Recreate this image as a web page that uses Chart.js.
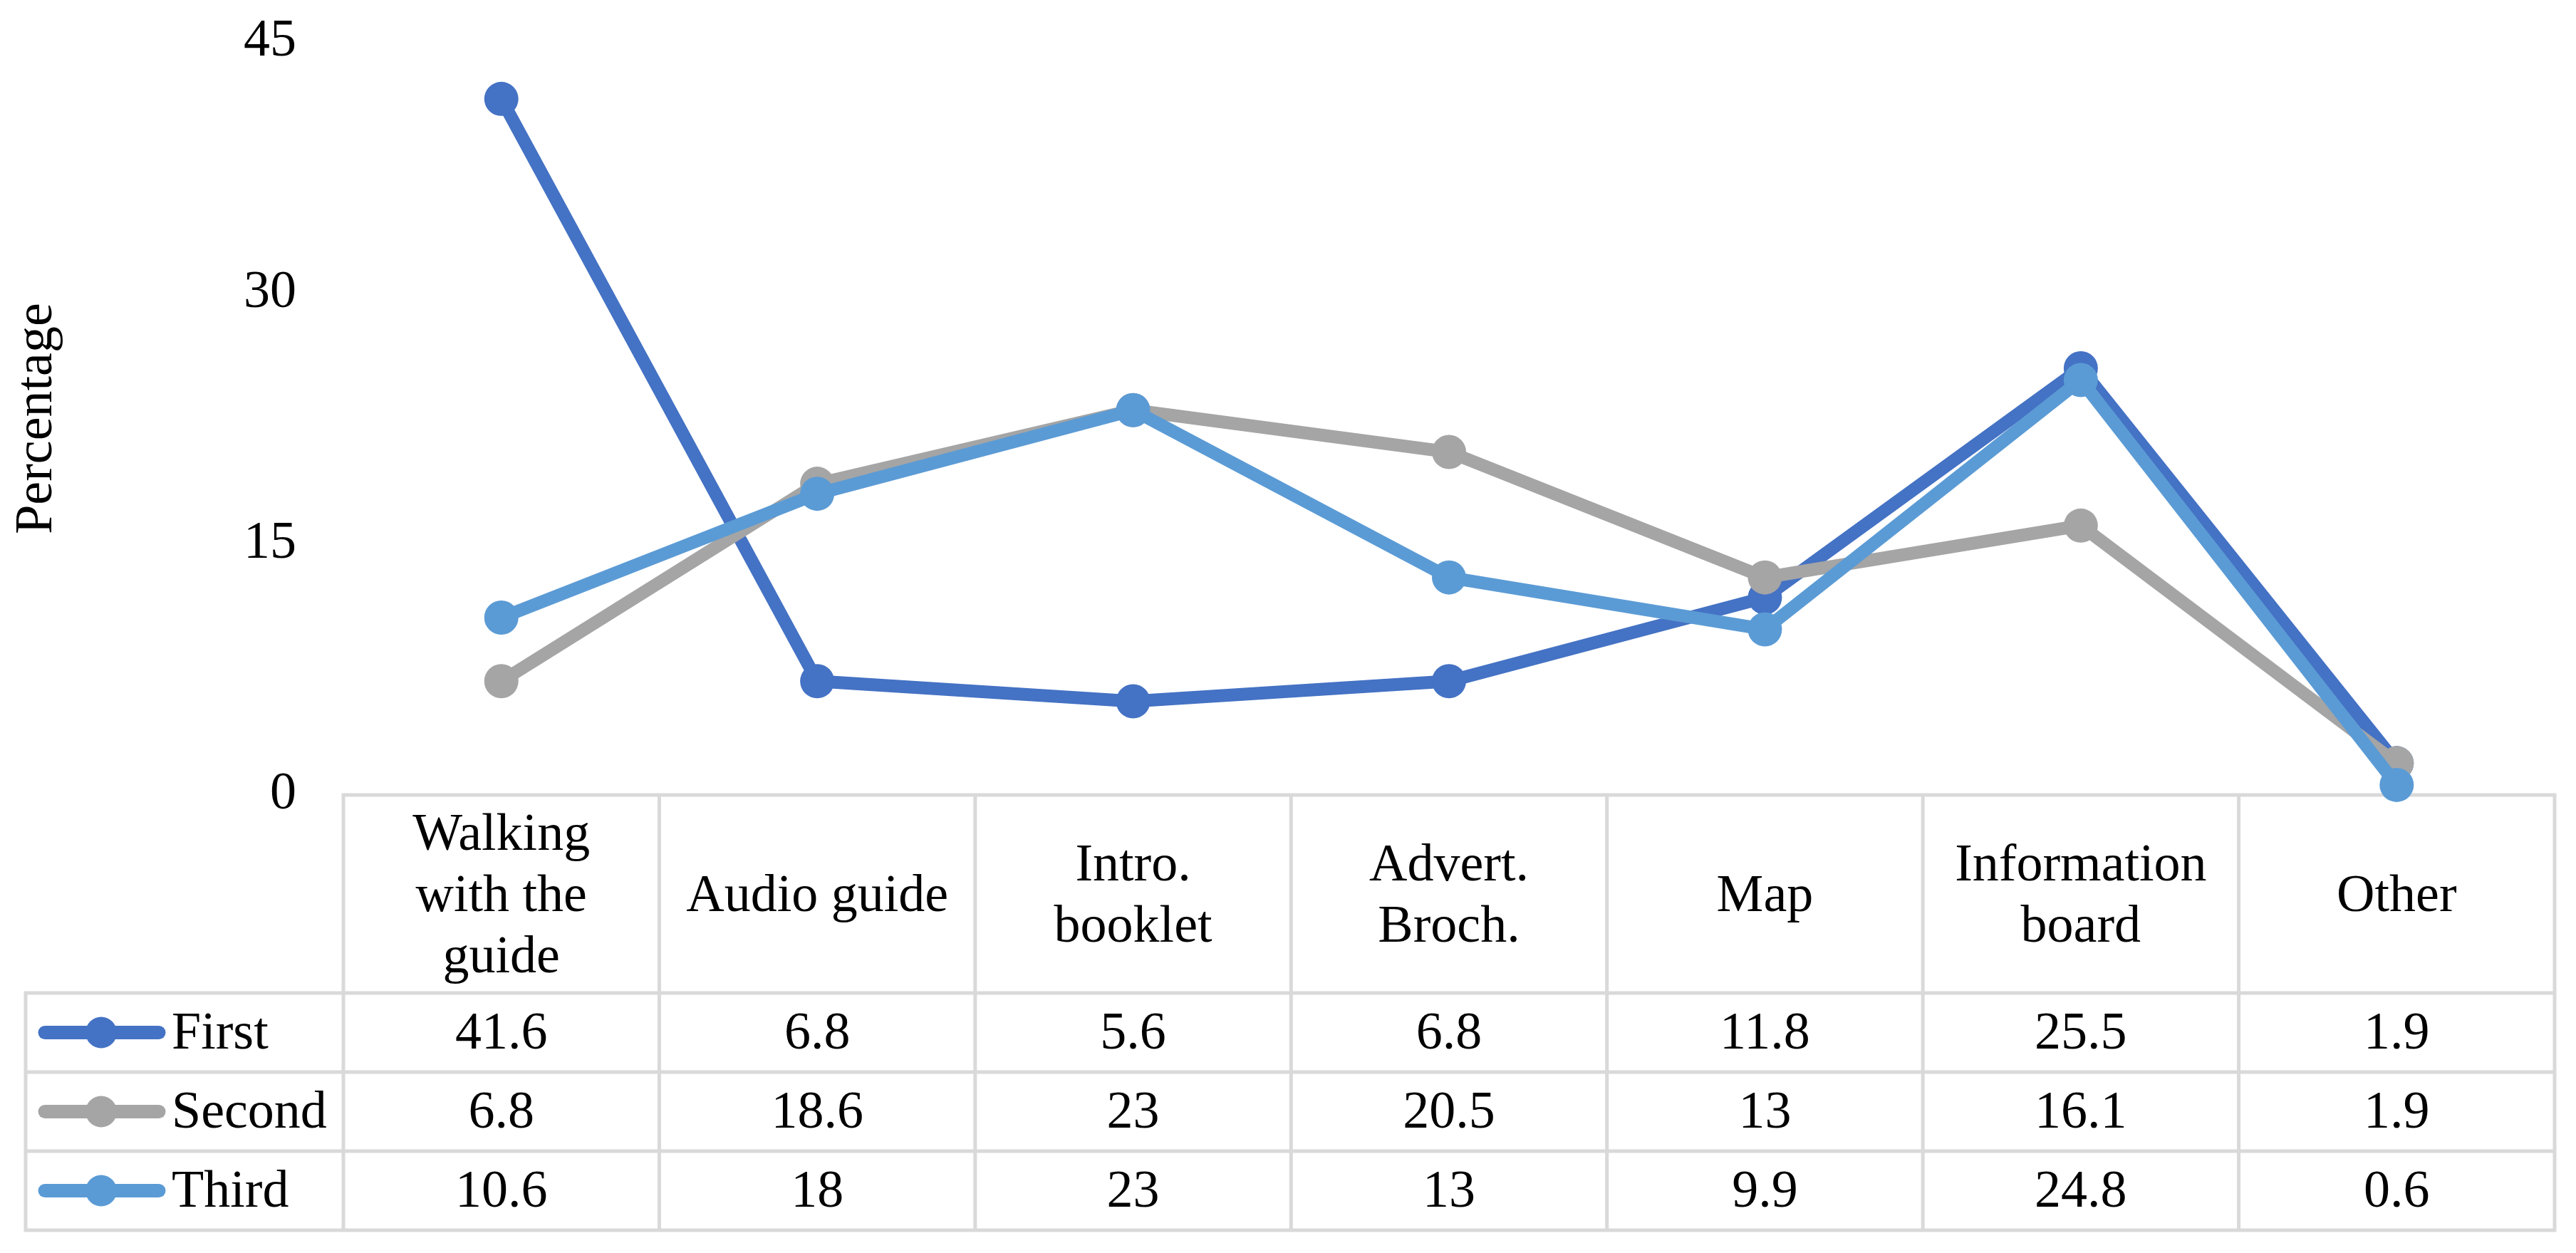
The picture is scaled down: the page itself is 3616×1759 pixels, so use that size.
<!DOCTYPE html>
<html>
<head>
<meta charset="utf-8">
<script src="https://cdn.jsdelivr.net/npm/chart.js@4.4.1/dist/chart.umd.min.js"></script>
<style>
    html, body { margin: 0; padding: 0; background: #fff; }
    #wrap { width: 3616px; height: 1759px; position: relative; }
</style>
</head>
<body>
<div id="wrap"><canvas id="mainChart"></canvas></div>
<script>
const categories = [
    ['Walking', 'with the', 'guide'],
    ['Audio guide'],
    ['Intro.', 'booklet'],
    ['Advert.', 'Broch.'],
    ['Map'],
    ['Information', 'board'],
    ['Other']
];
const seriesNames = ['First', 'Second', 'Third'];
const firstValues = [41.6, 6.8, 5.6, 6.8, 11.8, 25.5, 1.9];
const secondValues = [6.8, 18.6, 23, 20.5, 13, 16.1, 1.9];
const thirdValues = [10.6, 18, 23, 13, 9.9, 24.8, 0.6];
const yTicks = [0, 15, 30, 45];

const colors = {
    first: '#4472C4',
    second: '#A5A5A5',
    third: '#5B9BD5',
    grid: '#D9D9D9',
    text: '#000000'
};

const FONT = "'Liberation Serif', 'Times New Roman', serif";
const FONT_SIZE = 74;

// table geometry (below the plot area)
const headerH = 278;
const rowH = 111;
const legendLeft = 36;
const lineW = 5;

const seriesValues = [firstValues, secondValues, thirdValues];
const seriesColors = [colors.first, colors.second, colors.third];

const dataTablePlugin = {
    id: 'dataTable',
    beforeDatasetsDraw(chart) {
        const ctx = chart.ctx;
        const xs = chart.scales.x;
        const area = chart.chartArea;
        const n = categories.length;
        const colW = (area.right - area.left) / n;
        const top = area.bottom;
        const rowsTop = top + headerH;
        const bottom = rowsTop + rowH * seriesNames.length;

        ctx.save();
        ctx.strokeStyle = colors.grid;
        ctx.lineWidth = lineW;
        ctx.lineCap = 'square';

        // horizontal lines
        ctx.beginPath();
        ctx.moveTo(area.left, top);
        ctx.lineTo(area.right, top);
        for (let r = 0; r <= seriesNames.length; r++) {
            const y = rowsTop + r * rowH;
            ctx.moveTo(legendLeft, y);
            ctx.lineTo(area.right, y);
        }
        // vertical lines
        for (let c = 0; c <= n; c++) {
            const x = area.left + c * colW;
            ctx.moveTo(x, top);
            ctx.lineTo(x, bottom);
        }
        ctx.moveTo(legendLeft, rowsTop);
        ctx.lineTo(legendLeft, bottom);
        ctx.stroke();

        ctx.fillStyle = colors.text;
        ctx.font = FONT_SIZE + 'px ' + FONT;
        ctx.textAlign = 'center';
        ctx.textBaseline = 'alphabetic';

        // header labels
        const lh = 86;
        const headMid = top + headerH / 2;
        categories.forEach((lines, i) => {
            const cx = xs.getPixelForValue(i);
            const start = headMid - (lines.length - 1) * lh / 2;
            lines.forEach((txt, k) => {
                ctx.fillText(txt, cx, start + k * lh + 24);
            });
        });

        // value rows + legend keys
        seriesNames.forEach((name, r) => {
            const mid = rowsTop + r * rowH + rowH / 2;
            ctx.textAlign = 'center';
            ctx.fillStyle = colors.text;
            seriesValues[r].forEach((v, i) => {
                ctx.fillText(String(v), xs.getPixelForValue(i), mid + 22);
            });

            ctx.strokeStyle = seriesColors[r];
            ctx.lineWidth = 19;
            ctx.lineCap = 'round';
            ctx.beginPath();
            ctx.moveTo(63, mid);
            ctx.lineTo(223, mid);
            ctx.stroke();
            ctx.fillStyle = seriesColors[r];
            ctx.beginPath();
            ctx.arc(142, mid, 22, 0, Math.PI * 2);
            ctx.fill();

            ctx.fillStyle = colors.text;
            ctx.textAlign = 'left';
            ctx.fillText(name, 241, mid + 22);
        });
        ctx.restore();
    }
};

function makeDataset(label, data, color, order) {
    return {
        label: label,
        data: data,
        borderColor: color,
        backgroundColor: color,
        borderWidth: 18,
        pointRadius: 24,
        pointBorderWidth: 0,
        pointBackgroundColor: color,
        pointHoverRadius: 24,
        tension: 0,
        fill: false,
        clip: false,
        order: order
    };
}

const ctx = document.getElementById('mainChart').getContext('2d');
const chart = new Chart(ctx, {
    type: 'line',
    data: {
        labels: categories,
        datasets: [
            makeDataset(seriesNames[0], firstValues, colors.first, 2),
            makeDataset(seriesNames[1], secondValues, colors.second, 1),
            makeDataset(seriesNames[2], thirdValues, colors.third, 0)
        ]
    },
    options: {
        responsive: true, maintainAspectRatio: false,
        animation: false,
        layout: { padding: { top: 59, right: 30, bottom: 643, left: 0 } },
        plugins: {
            legend: { display: false },
            tooltip: { enabled: false }
        },
        scales: {
            x: { display: false, offset: true },
            y: {
                min: 0, max: 45,
                afterBuildTicks: (axis) => { axis.ticks = yTicks.map(v => ({ value: v })); },
                afterFit: (axis) => {
                    axis.width = 482;
                    axis.paddingTop = 0;
                    axis.paddingBottom = 0;
                },
                grid: { display: false, drawTicks: false },
                border: { display: false },
                ticks: {
                    padding: 66,
                    color: colors.text,
                    font: { family: FONT, size: FONT_SIZE }
                },
                title: {
                    display: true,
                    text: 'Percentage',
                    color: colors.text,
                    padding: { top: 8, bottom: 0 },
                    font: { family: FONT, size: FONT_SIZE }
                }
            }
        }
    },
    plugins: [dataTablePlugin]
});
</script>
</body>
</html>
